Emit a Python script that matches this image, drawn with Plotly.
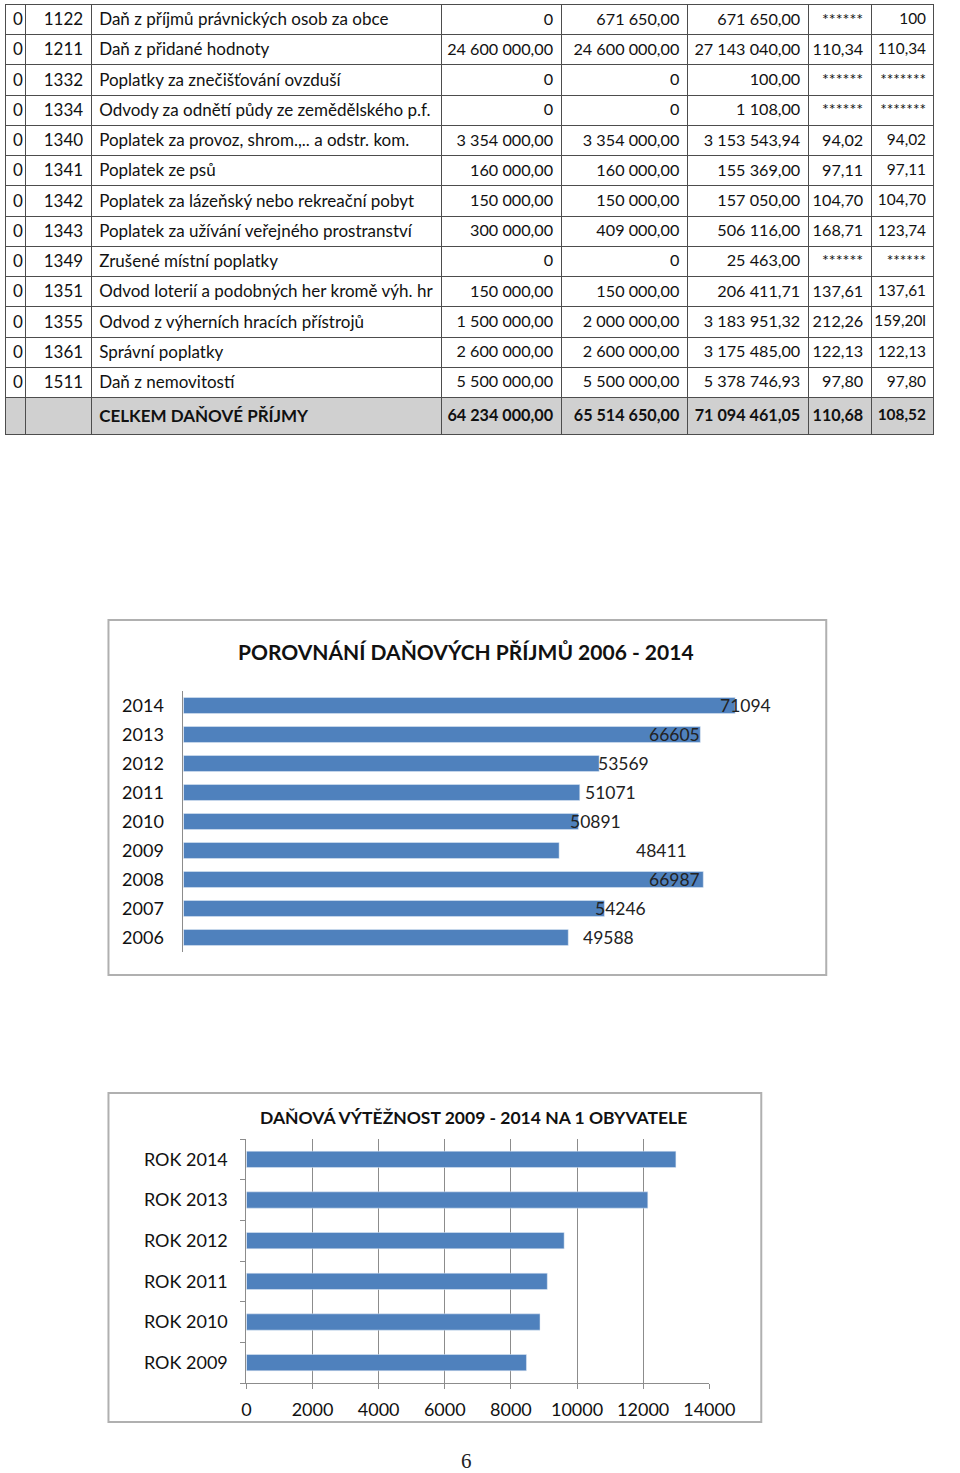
import plotly.graph_objects as go

W, H = 960, 1473
# measured from earlier renders: picture_x ~= 4.5 + 0.968 * figure_x
KX, OX = 0.968, 4.5
def xp(px_ref):
    v = (px_ref - OX) / KX / W
    return min(max(v, 0.0), 1.0)
def sx(d): return d / KX
def yp(py): return 1 - py / H

NB = "\u00a0"
def nb(s): return s.replace(" ", NB)

# ---------------- table data ----------------
col_par = ["0"] * 13 + [""]
col_pol = ["1122", "1211", "1332", "1334", "1340", "1341", "1342", "1343", "1349",
           "1351", "1355", "1361", "1511", ""]
col_name = ["Daň z příjmů právnických osob za obce", "Daň z přidané hodnoty",
            "Poplatky za znečišťování ovzduší", "Odvody za odnětí půdy ze zemědělského p.f.",
            "Poplatek za provoz, shrom.,.. a odstr. kom.", "Poplatek ze psů",
            "Poplatek za lázeňský nebo rekreační pobyt", "Poplatek za užívání veřejného prostranství",
            "Zrušené místní poplatky", "Odvod loterií a podobných her kromě výh. hr",
            "Odvod z výherních hracích přístrojů", "Správní poplatky", "Daň z nemovitostí",
            "CELKEM DAŇOVÉ PŘÍJMY"]
col_schv = ["0", "24 600 000,00", "0", "0", "3 354 000,00", "160 000,00", "150 000,00",
            "300 000,00", "0", "150 000,00", "1 500 000,00", "2 600 000,00", "5 500 000,00",
            "64 234 000,00"]
col_upr = ["671 650,00", "24 600 000,00", "0", "0", "3 354 000,00", "160 000,00", "150 000,00",
           "409 000,00", "0", "150 000,00", "2 000 000,00", "2 600 000,00", "5 500 000,00",
           "65 514 650,00"]
col_skut = ["671 650,00", "27 143 040,00", "100,00", "1 108,00", "3 153 543,94", "155 369,00",
            "157 050,00", "506 116,00", "25 463,00", "206 411,71", "3 183 951,32", "3 175 485,00",
            "5 378 746,93", "71 094 461,05"]
col_pct1 = ["******", "110,34", "******", "******", "94,02", "97,11", "104,70", "168,71",
            "******", "137,61", "212,26", "122,13", "97,80", "110,68"]
col_pct2 = ["100", "110,34", "*******", "*******", "94,02", "97,11", "104,70", "123,74",
            "******", "137,61", "159,20l", "122,13", "97,80", "108,52"]

# ---------------- chart data ----------------
years1 = ["2006", "2007", "2008", "2009", "2010", "2011", "2012", "2013", "2014"]
values1 = [49588, 54246, 66987, 48411, 50891, 51071, 53569, 66605, 71094]
label_shift1 = [39, 16, -28, 99, 17, 30, 24, -25, 10]

years2 = ["ROK 2009", "ROK 2010", "ROK 2011", "ROK 2012", "ROK 2013", "ROK 2014"]
values2 = [8470, 8880, 9100, 9610, 12140, 12990]

BAR = "#4f81bd"
FONT = "Lato"

cols = [col_par, col_pol, col_name, col_schv, col_upr, col_skut, col_pct1, col_pct2]
n = len(col_par)
def fmt(col):
    out = []
    for i, v in enumerate(col):
        v = nb(v)
        out.append("<b>" + v + "</b>" if i == n - 1 and v else v)
    return out
cols_f = [fmt(c) for c in cols]
header_vals = [c[0] for c in cols_f]
cell_vals = [c[1:] for c in cols_f]

bounds_ref = [1, 25.5, 90.7, 441, 560.7, 687, 808, 871, 954]
bounds = [xp(b) * W for b in bounds_ref]
widths = [bounds[i + 1] - bounds[i] for i in range(len(bounds) - 1)]
ROWH = 30.23
col_fs = [17, 17, 17, 16.2, 16.2, 16.2, 16.2, 15.4]

fills = [["white"] * (n - 2) + ["#d0d0d0"] for _ in cols]
aligns_col = ["left", "right", "left", "right", "right", "right", "right", "right"]

fig = go.Figure()
fig.add_trace(go.Table(
    domain=dict(x=[bounds[0] / W, bounds[-1] / W], y=[yp(460), yp(4.5)]),
    columnwidth=widths,
    header=dict(values=header_vals, height=ROWH, fill_color="white",
                line=dict(color="#4d4d4d", width=1), align=aligns_col,
                font=dict(family=FONT, size=col_fs, color="#111")),
    cells=dict(values=cell_vals, height=ROWH, fill_color=fills,
               line=dict(color="#4d4d4d", width=1), align=aligns_col,
               font=dict(family=FONT, size=col_fs, color="#111")),
))

# chart 1
fig.add_trace(go.Bar(x=values1, y=years1, orientation="h", marker_color=BAR,
                     width=0.55, xaxis="x", yaxis="y", showlegend=False, hoverinfo="skip"))
# chart 2
fig.add_trace(go.Bar(x=values2, y=years2, orientation="h", marker_color=BAR,
                     width=0.4, xaxis="x2", yaxis="y2", showlegend=False, hoverinfo="skip"))

annotations = []
for i, (v, s) in enumerate(zip(values1, label_shift1)):
    annotations.append(dict(x=v, y=i, xref="x", yref="y", text=str(v), showarrow=False,
                            xanchor="center", yanchor="middle", xshift=sx(s),
                            font=dict(family=FONT, size=17.5, color="#222")))
annotations.append(dict(x=xp(466), y=yp(651), xref="paper", yref="paper",
                        xanchor="center", yanchor="middle",
                        text="<b>POROVNÁNÍ DAŇOVÝCH PŘÍJMŮ 2006 - 2014</b>", showarrow=False,
                        font=dict(family=FONT, size=21, color="#111")))
annotations.append(dict(x=xp(473), y=yp(1117), xref="paper", yref="paper",
                        xanchor="center", yanchor="middle",
                        text="<b>DAŇOVÁ VÝTĚŽNOST 2009 - 2014 NA 1 OBYVATELE</b>", showarrow=False,
                        font=dict(family=FONT, size=17.5, color="#111")))
annotations.append(dict(x=xp(466), y=yp(1461), xref="paper", yref="paper", text="6",
                        xanchor="center", yanchor="middle",
                        showarrow=False, font=dict(family="Liberation Serif", size=21, color="#222")))

shapes = [
    dict(type="rect", xref="paper", yref="paper", x0=xp(108), x1=xp(826), y0=yp(975), y1=yp(620),
         line=dict(color="#b0b0b0", width=2), fillcolor="rgba(0,0,0,0)", layer="below"),
    dict(type="rect", xref="paper", yref="paper", x0=xp(108), x1=xp(761), y0=yp(1422), y1=yp(1093),
         line=dict(color="#b0b0b0", width=2), fillcolor="rgba(0,0,0,0)", layer="below"),
]

fig.update_layout(
    width=W, height=H, autosize=False, margin=dict(l=0, r=0, t=0, b=0),
    paper_bgcolor="white", plot_bgcolor="white", showlegend=False,
    font=dict(family=FONT, color="#222"),
    xaxis=dict(domain=[xp(183), xp(804)], range=[0, 80000], visible=False, fixedrange=True),
    yaxis=dict(domain=[yp(952), yp(691)], type="category", categoryorder="array",
               categoryarray=years1, range=[-0.5, 8.5], showline=True, linecolor="#8c8c8c",
               linewidth=1, showgrid=False, ticks="", ticklabelstandoff=15,
               tickfont=dict(family=FONT, size=18, color="#111"), fixedrange=True),
    xaxis2=dict(domain=[xp(246), xp(709)], range=[0, 14000], dtick=2000, tickformat="d",
                anchor="y2", showgrid=True, gridcolor="#8c8c8c", gridwidth=1, showline=True,
                linecolor="#8c8c8c", ticks="outside", ticklen=5, tickcolor="#8c8c8c",
                zeroline=False, ticklabelstandoff=5,
                tickfont=dict(family=FONT, size=18, color="#111"), fixedrange=True),
    yaxis2=dict(domain=[yp(1383), yp(1139)], anchor="x2", type="category",
                categoryorder="array", categoryarray=years2, range=[-0.5, 5.5], showline=True,
                linecolor="#8c8c8c", ticks="outside", ticklen=5, tickcolor="#8c8c8c",
                tickson="boundaries", showgrid=False, ticklabelstandoff=14,
                tickfont=dict(family=FONT, size=18, color="#111"), fixedrange=True),
    annotations=annotations, shapes=shapes,
)

fig.write_html("out.html", config={"responsive": False, "displayModeBar": False})
